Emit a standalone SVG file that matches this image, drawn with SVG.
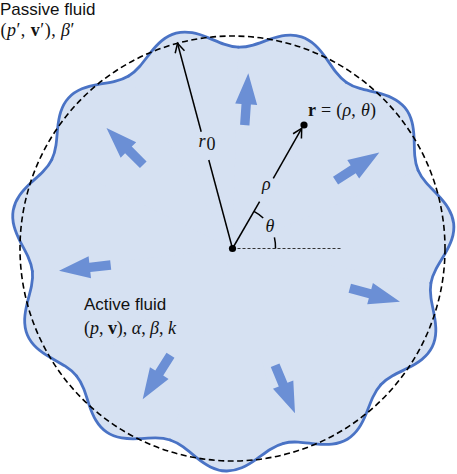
<svg xmlns="http://www.w3.org/2000/svg" width="457" height="474" viewBox="0 0 457 474">
<style>
.sans{font-family:"Liberation Sans",Arial,sans-serif;font-size:17px;fill:#111}
.math{font-family:"Liberation Serif","Times New Roman",serif;font-size:18px;fill:#111}
.it{font-style:italic}
.bf{font-weight:bold}
.lobe{fill:#d6e1f2;stroke:none}
.wave{fill:none;stroke:#4a73c5;stroke-width:2.8;stroke-linecap:round}
.arr{fill:#6b8fd5}
.vec{stroke:#000;stroke-width:1.5;fill:none}
</style>
<defs>
<path id="wave" d="M193.24,-56.74 C194.59,-52.14 196.88,-47.81 199.83,-43.47 C202.78,-39.13 206.38,-34.77 209.84,-30.17 C213.31,-25.57 216.61,-20.73 218.94,-15.66 C221.27,-10.59 222.6,-5.3 222.6,0 C222.6,5.3 221.27,10.59 218.94,15.66 C216.61,20.73 213.31,25.57 209.84,30.17 C206.38,34.77 202.78,39.13 199.83,43.47 C196.88,47.81 194.59,52.14 193.24,56.74"/>
<path id="lobe" d="M193.24,-56.74 C194.59,-52.14 196.88,-47.81 199.83,-43.47 C202.78,-39.13 206.38,-34.77 209.84,-30.17 C213.31,-25.57 216.61,-20.73 218.94,-15.66 C221.27,-10.59 222.6,-5.3 222.6,0 C222.6,5.3 221.27,10.59 218.94,15.66 C216.61,20.73 213.31,25.57 209.84,30.17 C206.38,34.77 202.78,39.13 199.83,43.47 C196.88,47.81 194.59,52.14 193.24,56.74 L0,0 Z"/>
<polygon id="arrow" points="0,0 -31,-11 -31,-4.7 -52,-4.7 -52,4.7 -31,4.7 -31,11"/>
<marker id="open" markerUnits="userSpaceOnUse" markerWidth="14" markerHeight="14" viewBox="-12 -7 14 14" refX="0" refY="0" orient="auto">
<path d="M-9,-4.8 L0,0 L-9,4.8" fill="none" stroke="#000" stroke-width="1.5"/>
</marker>
</defs>

<g id="passive-label">
<text class="sans" x="0" y="14.5">Passive fluid</text>
<text class="math" x="0.5" y="36" textLength="74">(<tspan class="it">p</tspan>′, <tspan class="bf">v</tspan>′), <tspan class="it">β</tspan>′</text>
</g>

<g id="active-fluid" transform="translate(232.5,248.5)">
<circle r="201.6" class="lobe"/>
<use href="#lobe" class="lobe" transform="rotate(-6.5)"/>
<use href="#lobe" class="lobe" transform="rotate(26.23)"/>
<use href="#lobe" class="lobe" transform="rotate(58.95)"/>
<use href="#lobe" class="lobe" transform="rotate(91.68)"/>
<use href="#lobe" class="lobe" transform="rotate(124.41)"/>
<use href="#lobe" class="lobe" transform="rotate(157.14)"/>
<use href="#lobe" class="lobe" transform="rotate(189.86)"/>
<use href="#lobe" class="lobe" transform="rotate(222.59)"/>
<use href="#lobe" class="lobe" transform="rotate(255.32)"/>
<use href="#lobe" class="lobe" transform="rotate(288.05)"/>
<use href="#lobe" class="lobe" transform="rotate(320.77)"/>
<g class="wave">
<use href="#wave" transform="rotate(-6.5)"/>
<use href="#wave" transform="rotate(26.23)"/>
<use href="#wave" transform="rotate(58.95)"/>
<use href="#wave" transform="rotate(91.68)"/>
<use href="#wave" transform="rotate(124.41)"/>
<use href="#wave" transform="rotate(157.14)"/>
<use href="#wave" transform="rotate(189.86)"/>
<use href="#wave" transform="rotate(222.59)"/>
<use href="#wave" transform="rotate(255.32)"/>
<use href="#wave" transform="rotate(288.05)"/>
<use href="#wave" transform="rotate(320.77)"/>
</g>
<circle id="reference-circle" r="212.5" fill="none" stroke="#000" stroke-width="1.6" stroke-dasharray="6 3.5"/>
</g>

<g id="flow-arrows" class="arr">
<use href="#arrow" transform="translate(248.3,73.3) rotate(-86.1)"/>
<use href="#arrow" transform="translate(106.5,128) rotate(-135)"/>
<use href="#arrow" transform="translate(379.3,152.5) rotate(-32.7)"/>
<use href="#arrow" transform="translate(59,270.7) rotate(173.7)"/>
<use href="#arrow" transform="translate(400,301.7) rotate(15)"/>
<use href="#arrow" transform="translate(142.7,399.3) rotate(122.3)"/>
<use href="#arrow" transform="translate(295,413.3) rotate(67.5)"/>
</g>

<g id="geometry">
<line x1="232.5" y1="248.5" x2="341" y2="248.5" stroke="#333" stroke-width="1.2" stroke-dasharray="3 2"/>
<line class="vec" x1="232.5" y1="248.5" x2="208.8" y2="160"/>
<line class="vec" x1="201.2" y1="131.7" x2="177.5" y2="43.3" marker-end="url(#open)"/>
<line class="vec" x1="232.5" y1="248.5" x2="259.6" y2="201.7"/>
<line class="vec" x1="273.3" y1="178.3" x2="301.7" y2="128.3" marker-end="url(#open)"/>
<path class="vec" d="M254,211.3 A43,43 0 0 1 263.2,218"/>
<path class="vec" d="M274.4,237.4 A43,43 0 0 1 275.5,248.5"/>
<circle cx="232.5" cy="248.5" r="3.6" fill="#000"/>
<circle cx="304" cy="125" r="3.6" fill="#000"/>
<text class="math it" x="198.5" y="146.5" font-size="17">r</text>
<text class="math" x="206.5" y="150" font-size="11">0</text>
<text class="math it" x="262" y="190">ρ</text>
<text class="math it" x="265.5" y="231.5" font-size="17">θ</text>
<text class="math" x="308" y="116" textLength="68"><tspan class="bf">r</tspan> = (<tspan class="it">ρ</tspan>, <tspan class="it">θ</tspan>)</text>
</g>

<g id="active-label">
<text class="sans" x="84" y="310">Active fluid</text>
<text class="math" x="84" y="333.5" textLength="92">(<tspan class="it">p</tspan>, <tspan class="bf">v</tspan>), <tspan class="it">α</tspan>, <tspan class="it">β</tspan>, <tspan class="it">k</tspan></text>
</g>
</svg>
